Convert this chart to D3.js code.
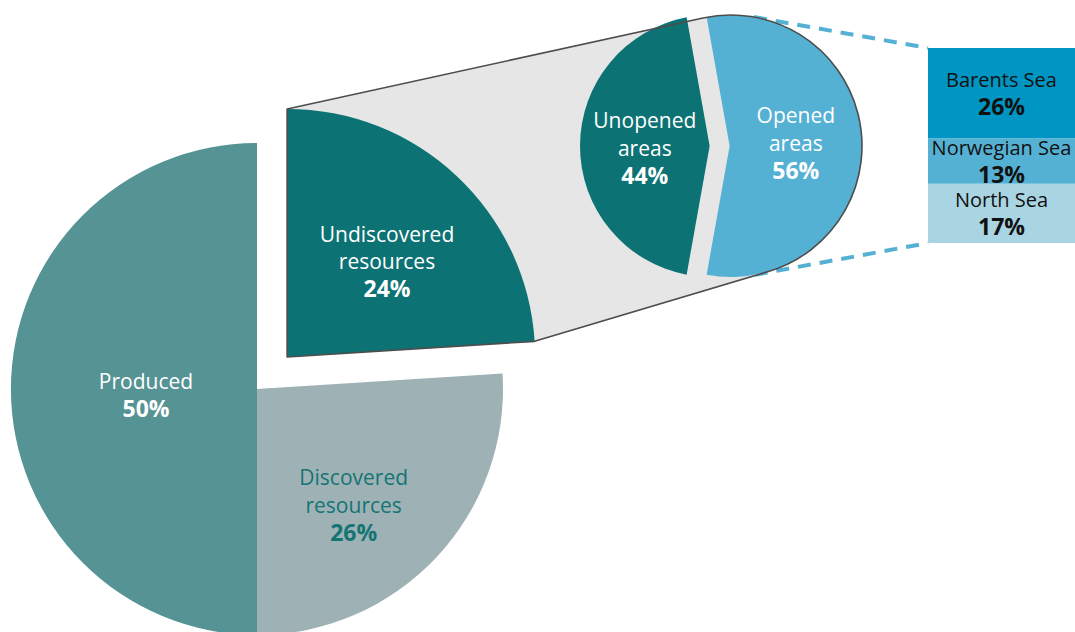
<!DOCTYPE html>
<html>
<head>
<meta charset="utf-8">
<script src="https://cdn.jsdelivr.net/npm/d3@7"></script>
<style>
  html, body { margin: 0; padding: 0; background: #ffffff; }
  svg { display: block; }
  text { font-family: "Open Sans", "Noto Sans", sans-serif; }
</style>
</head>
<body>
<script>
// Total resources, split clockwise from twelve o'clock
const mainCategories = ["Undiscovered resources", "Discovered resources", "Produced"];
const mainValues = [24, 26, 50];

// Undiscovered resources by area status
const areaCategories = ["Unopened areas", "Opened areas"];
const areaValues = [44, 56];

// Opened areas by sea
const seaCategories = ["Barents Sea", "Norwegian Sea", "North Sea"];
const seaValues = [26, 13, 17];

const W = 1075, H = 632;

const mainColors = {
  "Produced": "#569394",
  "Discovered resources": "#9eb2b6",
  "Undiscovered resources": "#0c7273"
};
const mainTextColors = {
  "Produced": "#ffffff",
  "Discovered resources": "#157474",
  "Undiscovered resources": "#ffffff"
};
const areaColors = { "Unopened areas": "#0c7273", "Opened areas": "#55b1d4" };
const seaColors = ["#0095c2", "#55b1d4", "#a9d4e1"];

const svg = d3.select("body").append("svg")
  .attr("width", W).attr("height", H);

// ---- layout ----
const pieC = { x: 257, y: 389 };
const pieR = 246;
const explodeDist = 44;
const explodeR = pieR + 2;
const circ = { x: 731, y: 146 };
const circR = 131;
const notchBack = 12, notchFwd = 11, unopenedShift = 20;
const barX0 = 928, barX1 = W, barTop = 48, barBottom = 243;
const lineH = 27.5;
const nameSize = 21, pctSize = 23, seaNameSize = 20;
const outlineColor = "#4d4d4d";
const lensFill = "#e6e6e6";

// label nudges relative to the slice centroid
const labelNudge = {
  "Produced": [12, 6],
  "Discovered resources": [7, 32],
  "Undiscovered resources": [15, -5]
};

// ---- pie geometry ----
const pie = d3.pie().sort(null).value(d => d.value);
const slices = pie(mainCategories.map((c, i) => ({ name: c, value: mainValues[i] })));
const exploded = slices.find(s => s.data.name === "Undiscovered resources");
const midA = (exploded.startAngle + exploded.endAngle) / 2;
const expC = {
  x: pieC.x + explodeDist * Math.sin(midA),
  y: pieC.y - explodeDist * Math.cos(midA)
};
const pStart = { x: expC.x + explodeR * Math.sin(exploded.startAngle), y: expC.y - explodeR * Math.cos(exploded.startAngle) };
const pEnd = { x: expC.x + explodeR * Math.sin(exploded.endAngle), y: expC.y - explodeR * Math.cos(exploded.endAngle) };

// tangent points from an outside point to the second circle
function tangents(p) {
  const dx = p.x - circ.x, dy = p.y - circ.y;
  const d = Math.hypot(dx, dy);
  const phi = Math.atan2(dy, dx);
  const a = Math.acos(circR / d);
  const t1 = { x: circ.x + circR * Math.cos(phi + a), y: circ.y + circR * Math.sin(phi + a) };
  const t2 = { x: circ.x + circR * Math.cos(phi - a), y: circ.y + circR * Math.sin(phi - a) };
  return t1.y < t2.y ? { upper: t1, lower: t2 } : { upper: t2, lower: t1 };
}

const tTop = tangents(pStart).upper;
const tBot = tangents(pEnd).lower;

// ---- dashed connectors from the circle to the bar ----
const barScale = d3.scaleLinear().domain([0, d3.sum(seaValues)]).range([barTop, barBottom]);
const cornerTop = { x: barX0, y: barScale(0) };
const cornerBot = { x: barX0, y: barScale(d3.sum(seaValues)) };
const dashTop = tangents(cornerTop).upper;
const dashBot = tangents(cornerBot).lower;

svg.append("g").selectAll("line")
  .data([[dashTop, cornerTop], [dashBot, cornerBot]])
  .join("line")
  .attr("x1", d => d[0].x).attr("y1", d => d[0].y)
  .attr("x2", d => d[1].x).attr("y2", d => d[1].y)
  .attr("stroke", "#55b1d4")
  .attr("stroke-width", 4)
  .attr("stroke-dasharray", "13 9");

// ---- lens shape joining the exploded slice to the second circle ----
function angleOf(p) { return Math.atan2(p.y - circ.y, p.x - circ.x); }
let sweepSpan = angleOf(tBot) - angleOf(tTop);
while (sweepSpan < 0) sweepSpan += 2 * Math.PI;
const largeArc = sweepSpan > Math.PI ? 1 : 0;
const lensPath = `M${pStart.x},${pStart.y} L${tTop.x},${tTop.y} ` +
  `A${circR},${circR} 0 ${largeArc} 1 ${tBot.x},${tBot.y} ` +
  `L${pEnd.x},${pEnd.y} L${expC.x},${expC.y} Z`;

svg.append("path").attr("d", lensPath).attr("fill", lensFill);

// ---- main pie ----
const arcMain = d3.arc().innerRadius(0).outerRadius(pieR);
const arcExp = d3.arc().innerRadius(0).outerRadius(explodeR);

const pieG = svg.append("g");
pieG.selectAll("path")
  .data(slices)
  .join("path")
  .attr("transform", d => d === exploded
    ? `translate(${expC.x},${expC.y})`
    : `translate(${pieC.x},${pieC.y})`)
  .attr("d", d => d === exploded ? arcExp(d) : arcMain(d))
  .attr("fill", d => mainColors[d.data.name]);

// ---- second circle: unopened / opened split ----
const fracLeft = areaValues[0] / d3.sum(areaValues);
// central angle of the circular segment holding fracLeft of the area
let lo = 0, hi = 2 * Math.PI;
for (let i = 0; i < 60; i++) {
  const mid = (lo + hi) / 2;
  if ((mid - Math.sin(mid)) / (2 * Math.PI) < fracLeft) lo = mid; else hi = mid;
}
const theta = (lo + hi) / 2;
const chordX = circ.x - circR * Math.cos(theta / 2);
const topX = chordX - notchBack;
const tipX = chordX + notchFwd;
const halfH = Math.sqrt(circR * circR - (topX - circ.x) ** 2);
const yTop = circ.y - halfH, yBot = circ.y + halfH;
const leftLarge = topX > circ.x ? 1 : 0;

const areaShapes = [
  {
    name: areaCategories[0], value: areaValues[0],
    d: `M${topX},${yTop} A${circR},${circR} 0 ${leftLarge} 0 ${topX},${yBot} L${tipX},${circ.y} Z`,
    dx: -unopenedShift,
    x0: circ.x - circR - unopenedShift, x1: tipX - unopenedShift, ny: 2
  },
  {
    name: areaCategories[1], value: areaValues[1],
    d: `M${topX},${yTop} A${circR},${circR} 0 ${1 - leftLarge} 1 ${topX},${yBot} L${tipX},${circ.y} Z`,
    dx: 0,
    x0: tipX, x1: circ.x + circR, ny: -3
  }
];

svg.append("g").selectAll("path")
  .data(areaShapes)
  .join("path")
  .attr("transform", d => `translate(${d.dx},0)`)
  .attr("d", d => d.d)
  .attr("fill", d => areaColors[d.name]);

// outline of the lens on top
svg.append("path").attr("d", lensPath)
  .attr("fill", "none")
  .attr("stroke", outlineColor)
  .attr("stroke-width", 1.6)
  .attr("stroke-linejoin", "round");

// ---- stacked bar of opened areas ----
let acc = 0;
const seaRows = seaCategories.map((c, i) => {
  const row = { name: c, value: seaValues[i], y0: acc, y1: acc + seaValues[i], color: seaColors[i] };
  acc += seaValues[i];
  return row;
});

svg.append("g").selectAll("rect")
  .data(seaRows)
  .join("rect")
  .attr("x", barX0)
  .attr("y", d => barScale(d.y0))
  .attr("width", barX1 - barX0)
  .attr("height", d => barScale(d.y1) - barScale(d.y0))
  .attr("fill", d => d.color);

// ---- labels ----
function drawLabel(g, cx, cy, lines, color) {
  const n = lines.length;
  lines.forEach((ln, i) => {
    g.append("text")
      .attr("x", cx)
      .attr("y", cy + (i - (n - 1) / 2) * lineH)
      .attr("dy", "0.36em")
      .attr("text-anchor", "middle")
      .attr("fill", color)
      .attr("font-size", ln.size)
      .attr("font-weight", ln.bold ? 700 : 400)
      .text(ln.text);
  });
}

const labelG = svg.append("g");

slices.forEach(s => {
  const c = s === exploded ? expC : pieC;
  const cen = (s === exploded ? arcExp : arcMain).centroid(s);
  const nudge = labelNudge[s.data.name];
  const lines = s.data.name.split(" ").map(w => ({ text: w, size: nameSize }));
  lines.push({ text: s.data.value + "%", size: pctSize, bold: true });
  drawLabel(labelG, c.x + cen[0] + nudge[0], c.y + cen[1] + nudge[1], lines, mainTextColors[s.data.name]);
});

areaShapes.forEach(a => {
  const lines = a.name.split(" ").map(w => ({ text: w, size: nameSize }));
  lines.push({ text: a.value + "%", size: pctSize, bold: true });
  drawLabel(labelG, (a.x0 + a.x1) / 2, circ.y + a.ny, lines, "#ffffff");
});

seaRows.forEach(r => {
  drawLabel(labelG, (barX0 + barX1) / 2, (barScale(r.y0) + barScale(r.y1)) / 2,
    [{ text: r.name, size: seaNameSize }, { text: r.value + "%", size: pctSize, bold: true }],
    "#111111");
});
</script>
</body>
</html>
